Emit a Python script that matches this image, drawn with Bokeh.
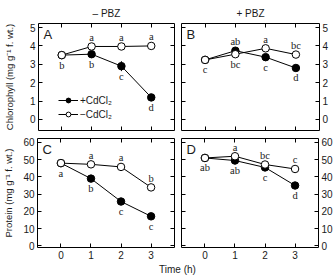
from bokeh.plotting import figure
from bokeh.models import (LinearAxis, Range1d, FixedTicker, Legend, LegendItem,
                          Label, LabelSet, ColumnDataSource)
from bokeh.layouts import column, row
from bokeh.embed import file_html
from bokeh.resources import INLINE

FONT = "Liberation Sans"
INK = "#1a1a1a"

# ---- data -------------------------------------------------------------
hours = [0, 1, 2, 3]

# Chlorophyll, -PBZ
chl_nopbz_cd = [3.5, 3.55, 2.9, 1.2]
chl_nopbz_cd_err = [0.05, 0.08, 0.27, 0.08]
chl_nopbz_ctl = [3.5, 3.97, 3.97, 4.0]
chl_nopbz_ctl_err = [0.05, 0.05, 0.05, 0.15]
chl_nopbz_cd_letters = ["b", "b", "c", "d"]
chl_nopbz_cd_side = ["below", "below", "below", "below"]
chl_nopbz_ctl_letters = ["", "a", "a", "a"]
chl_nopbz_ctl_side = ["above", "above", "above", "above"]

# Chlorophyll, +PBZ
chl_pbz_cd = [3.24, 3.74, 3.39, 2.8]
chl_pbz_cd_err = [0.05, 0.08, 0.08, 0.08]
chl_pbz_ctl = [3.24, 3.55, 3.87, 3.53]
chl_pbz_ctl_err = [0.05, 0.05, 0.05, 0.05]
chl_pbz_cd_letters = ["", "ab", "c", "d"]
chl_pbz_cd_side = ["below", "above", "below", "below"]
chl_pbz_ctl_letters = ["c", "bc", "a", "bc"]
chl_pbz_ctl_side = ["below", "below", "above", "above"]

# Protein, -PBZ
prot_nopbz_cd = [48.0, 39.0, 25.7, 17.1]
prot_nopbz_cd_err = [0.8, 1.5, 1.0, 1.0]
prot_nopbz_ctl = [48.0, 47.3, 45.8, 33.9]
prot_nopbz_ctl_err = [0.8, 0.8, 0.8, 0.8]
prot_nopbz_cd_letters = ["a", "b", "c", "c"]
prot_nopbz_cd_side = ["below", "below", "below", "below"]
prot_nopbz_ctl_letters = ["", "a", "a", "b"]
prot_nopbz_ctl_side = ["above", "above", "above", "above"]

# Protein, +PBZ
prot_pbz_cd = [51.0, 49.5, 45.5, 35.0]
prot_pbz_cd_err = [0.8, 0.8, 0.8, 0.8]
prot_pbz_ctl = [51.0, 52.0, 47.2, 44.6]
prot_pbz_ctl_err = [0.8, 0.8, 0.8, 0.8]
prot_pbz_cd_letters = ["ab", "ab", "c", "d"]
prot_pbz_cd_side = ["below", "below", "below", "below"]
prot_pbz_ctl_letters = ["", "a", "bc", "c"]
prot_pbz_ctl_side = ["above", "above", "above", "above"]

chl_ticks = [0, 1, 2, 3, 4, 5]
prot_ticks = [0, 10, 20, 30, 40, 50, 60]

X_RANGE = (-0.78, 3.78)
CHL_RANGE = (-0.6, 5.22)
PROT_RANGE = (-1.0, 62.3)


def style_axis(ax, ticks, labelled, size="10px"):
    ax.ticker = FixedTicker(ticks=ticks)
    ax.axis_line_color = None
    ax.major_tick_in = 4
    ax.major_tick_out = 0
    ax.minor_tick_in = 0
    ax.minor_tick_out = 0
    ax.major_tick_line_color = "black"
    ax.major_tick_line_width = 1
    ax.major_label_text_font = FONT
    ax.major_label_text_color = INK
    ax.major_label_text_font_size = size
    if labelled:
        ax.major_label_standoff = 3
    else:
        # tick marks only, no numbers on this side
        ax.major_label_overrides = {t: "" for t in ticks}
        ax.major_label_standoff = 0


def add_letters(p, values, letters, sides):
    xs, ys, txt, offs = [], [], [], []
    for h, v, l, s in zip(hours, values, letters, sides):
        if not l:
            continue
        xs.append(h)
        ys.append(v)
        txt.append(l)
        offs.append(9 if s == "above" else -10)
    src = ColumnDataSource(dict(x=xs, y=ys, t=txt, o=offs))
    p.add_layout(LabelSet(x="x", y="y", text="t", y_offset="o", source=src,
                          text_font=FONT, text_font_size="10.5px",
                          text_align="center", text_baseline="middle",
                          text_color=INK))


def panel(width, height, borders, yr, yticks, side, bottom_labelled,
          title, ylabel, letter, cd, cd_err, ctl, ctl_err,
          cd_letters, cd_side, ctl_letters, ctl_side, label_standoff=0):
    top, right, bottom, left = borders
    p = figure(width=width, height=height, output_backend="svg",
               toolbar_location=None, x_range=Range1d(*X_RANGE),
               y_range=Range1d(*yr), x_axis_location=None,
               y_axis_location=None, min_border_top=top,
               min_border_right=right, min_border_bottom=bottom,
               min_border_left=left)
    p.xgrid.visible = False
    p.ygrid.visible = False
    p.outline_line_color = "black"
    p.outline_line_width = 1
    p.background_fill_color = "white"
    p.border_fill_color = "white"

    # frame ticks on all four sides
    for loc in ("below", "above"):
        ax = LinearAxis()
        style_axis(ax, hours, loc == "below" and bottom_labelled)
        p.add_layout(ax, loc)
    for loc in ("left", "right"):
        ax = LinearAxis()
        style_axis(ax, yticks, loc == side)
        if loc == side and ylabel:
            ax.axis_label = ylabel
            ax.axis_label_text_font = FONT
            ax.axis_label_text_font_size = "9.5px"
            ax.axis_label_text_font_style = "normal"
            ax.axis_label_text_color = INK
            ax.axis_label_standoff = label_standoff
        p.add_layout(ax, loc)

    if title:
        p.title.text = title
        p.title.align = "center"
        p.title.text_font = FONT
        p.title.text_font_size = "10px"
        p.title.text_font_style = "normal"
        p.title.text_color = INK

    # error bars
    for vals, errs in ((cd, cd_err), (ctl, ctl_err)):
        lo = [v - e for v, e in zip(vals, errs)]
        hi = [v + e for v, e in zip(vals, errs)]
        p.segment(x0=hours, y0=lo, x1=hours, y1=hi, line_color="black",
                  line_width=1)

    l1 = p.line(hours, cd, line_color="black", line_width=1)
    m1 = p.scatter(hours, cd, size=7.5, marker="circle", fill_color="black",
                   line_color="black", line_width=1)
    l2 = p.line(hours, ctl, line_color="black", line_width=1)
    m2 = p.scatter(hours, ctl, size=7.5, marker="circle", fill_color="white",
                   line_color="black", line_width=1)

    add_letters(p, cd, cd_letters, cd_side)
    add_letters(p, ctl, ctl_letters, ctl_side)

    p.add_layout(Label(x=X_RANGE[0], y=yr[1], x_offset=5, y_offset=-3,
                       text=letter, text_font=FONT, text_font_size="13px",
                       text_baseline="top", text_color=INK))
    return p, (l1, m1, l2, m2)


pA, rA = panel(177, 135, (21, 3, 5, 35), CHL_RANGE, chl_ticks, "left", False,
               "\u2013 PBZ", "Chlorophyll (mg g\u207b\u00b9 f. wt.)", "A",
               chl_nopbz_cd, chl_nopbz_cd_err, chl_nopbz_ctl, chl_nopbz_ctl_err,
               chl_nopbz_cd_letters, chl_nopbz_cd_side,
               chl_nopbz_ctl_letters, chl_nopbz_ctl_side, label_standoff=12)
pB, _ = panel(158, 135, (21, 16, 5, 4), CHL_RANGE, chl_ticks, "right", False,
              "+ PBZ", None, "B",
              chl_pbz_cd, chl_pbz_cd_err, chl_pbz_ctl, chl_pbz_ctl_err,
              chl_pbz_cd_letters, chl_pbz_cd_side,
              chl_pbz_ctl_letters, chl_pbz_ctl_side)
pC, _ = panel(177, 127, (3, 3, 15, 35), PROT_RANGE, prot_ticks, "left", True,
              None, "Protein (mg g\u207b\u00b9 f. wt.)", "C",
              prot_nopbz_cd, prot_nopbz_cd_err, prot_nopbz_ctl, prot_nopbz_ctl_err,
              prot_nopbz_cd_letters, prot_nopbz_cd_side,
              prot_nopbz_ctl_letters, prot_nopbz_ctl_side, label_standoff=6)
pD, _ = panel(158, 127, (3, 16, 15, 4), PROT_RANGE, prot_ticks, "right", True,
              None, None, "D",
              prot_pbz_cd, prot_pbz_cd_err, prot_pbz_ctl, prot_pbz_ctl_err,
              prot_pbz_cd_letters, prot_pbz_cd_side,
              prot_pbz_ctl_letters, prot_pbz_ctl_side)

# legend inside panel A
l1, m1, l2, m2 = rA
legend = Legend(items=[LegendItem(label="+CdCl\u2082", renderers=[l1, m1]),
                       LegendItem(label="\u2212CdCl\u2082", renderers=[l2, m2])],
                location=(20, 10), orientation="vertical",
                padding=0, margin=0, spacing=2,
                glyph_width=20, glyph_height=12, label_height=12,
                label_standoff=2, label_text_font=FONT,
                label_text_font_size="10px", label_text_color=INK,
                border_line_color=None, background_fill_alpha=0)
pA.add_layout(legend, "center")

# shared x-axis title below the lower row
strip = figure(width=335, height=13, output_backend="svg", toolbar_location=None,
               x_range=Range1d(0, 335), y_range=Range1d(0, 13),
               x_axis_location=None, y_axis_location=None,
               min_border=0, outline_line_color=None)
strip.xgrid.visible = False
strip.ygrid.visible = False
strip.add_layout(Label(x=177, y=6, text="Time (h)", text_font=FONT,
                       text_font_size="10px", text_align="center",
                       text_baseline="middle", text_color=INK))

layout = column(row(pA, pB), row(pC, pD), strip)

with open("out.html", "w") as f:
    f.write(file_html(layout, INLINE))
